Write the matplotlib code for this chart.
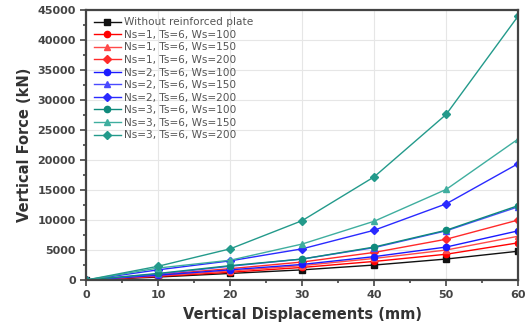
import matplotlib
matplotlib.use("Agg")
import matplotlib.pyplot as plt
from matplotlib.ticker import MultipleLocator

# displacement (mm)
disp = [0, 10, 20, 30, 40, 50, 60]

# vertical force (kN)
no_plate = [0, 500, 1100, 1700, 2500, 3500, 4800]
ns1_w100 = [0, 600, 1300, 2100, 3100, 4300, 6200]
ns1_w150 = [0, 700, 1500, 2400, 3600, 5000, 7300]
ns1_w200 = [0, 900, 1900, 3000, 4600, 6800, 10000]
ns2_w100 = [0, 800, 1700, 2600, 3900, 5500, 8200]
ns2_w150 = [0, 1000, 2300, 3500, 5400, 8200, 12200]
ns2_w200 = [0, 1700, 3200, 5200, 8300, 12700, 19400]
ns3_w100 = [0, 1100, 2400, 3500, 5500, 8300, 12400]
ns3_w150 = [0, 2000, 3300, 6000, 9800, 15100, 23500]
ns3_w200 = [0, 2300, 5200, 9900, 17200, 27600, 44000]

labels = ["Without reinforced plate",
          "Ns=1, Ts=6, Ws=100", "Ns=1, Ts=6, Ws=150", "Ns=1, Ts=6, Ws=200",
          "Ns=2, Ts=6, Ws=100", "Ns=2, Ts=6, Ws=150", "Ns=2, Ts=6, Ws=200",
          "Ns=3, Ts=6, Ws=100", "Ns=3, Ts=6, Ws=150", "Ns=3, Ts=6, Ws=200"]
series = [no_plate, ns1_w100, ns1_w150, ns1_w200, ns2_w100, ns2_w150, ns2_w200,
          ns3_w100, ns3_w150, ns3_w200]
colors = ["#111111", "#ff0000", "#ff4a4a", "#ff2a2a", "#1a1aff", "#4a4aff", "#2a2aff",
          "#0f8a7c", "#3fae9f", "#239a8b"]
markers = ["s", "o", "^", "D", "o", "^", "D", "o", "^", "D"]

plt.rcParams["font.family"] = ["DejaVu Sans"]

fig = plt.figure(figsize=(5.32, 3.23), dpi=100)
ax = fig.add_axes([0.162, 0.133, 0.812, 0.836])

for y, lab, c, m in zip(series, labels, colors, markers):
    ax.plot(disp, y, color=c, marker=m, markersize=4.5, linewidth=1.0, label=lab)

ax.set_xlim(0, 60)
ax.set_ylim(0, 45000)
ax.xaxis.set_major_locator(MultipleLocator(10))
ax.xaxis.set_minor_locator(MultipleLocator(5))
ax.yaxis.set_major_locator(MultipleLocator(5000))
ax.yaxis.set_minor_locator(MultipleLocator(2500))
ax.grid(True, which="major", color="#e6e6e6", linewidth=0.8)
ax.set_axisbelow(True)

for s in ax.spines.values():
    s.set_linewidth(1.6)
    s.set_color("#444444")
ax.tick_params(which="both", direction="out", colors="#444444", width=1.2,
               labelsize=8, labelcolor="#444444")
ax.tick_params(which="major", length=4)
ax.tick_params(which="minor", length=2.5)

ax.set_xlabel("Vertical Displacements (mm)", fontsize=10.5, fontweight="bold",
              color="#333333", labelpad=5)
ax.set_ylabel("Vertical Force (kN)", fontsize=10.5, fontweight="bold",
              color="#333333", labelpad=4)

leg = ax.legend(loc="upper left", frameon=False, handlelength=2.6, fontsize=7.6,
                labelspacing=0.24, borderaxespad=0.3, handletextpad=0.3)
for t in leg.get_texts():
    t.set_color("#555555")

# make tick labels bold once they exist
fig.canvas.draw()
for t in ax.get_xticklabels() + ax.get_yticklabels():
    t.set_fontweight("bold")

fig.savefig("out.png", dpi=100)
